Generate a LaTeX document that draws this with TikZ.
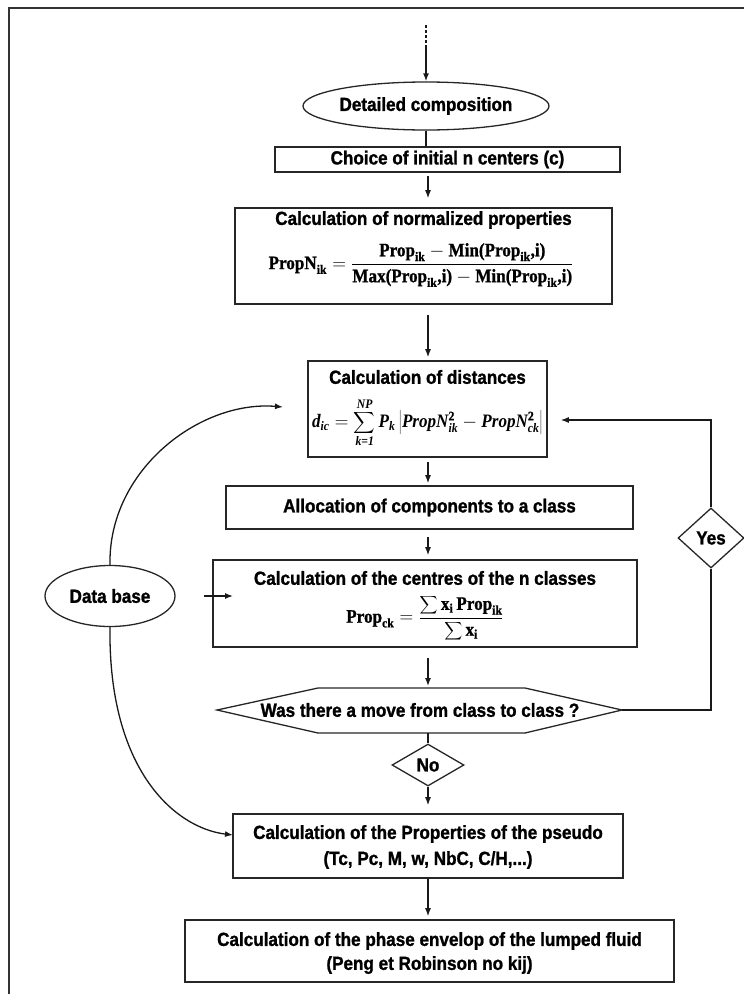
\RequirePackage{fix-cm}
\documentclass[tikz,border=0pt]{standalone}
\usepackage{graphicx}
\usepackage{fontspec}
\newfontfamily\lbl{Liberation Sans}[FakeStretch=0.9,BoldFeatures={FakeBold=1.2}]
\newfontfamily\tms{Liberation Serif}[FakeStretch=0.9,BoldFeatures={FakeBold=1.0}]
\usetikzlibrary{shapes.geometric,arrows.meta}
\newcommand\tr[1]{\mbox{\tms\bfseries #1}}
\newcommand\ti[1]{\mbox{\tms\bfseries\itshape #1}}
\newcommand\sbr[1]{\mbox{\fontsize{13}{13}\tms\bfseries #1}}
\newcommand\sbi[1]{\mbox{\fontsize{13}{13}\tms\bfseries\itshape #1}}
\newcommand\pik{\tr{Prop}_{\sbr{ik}}}
\newcommand\bsum[1]{\mathop{\vcenter{\hbox{\scalebox{#1}{$\displaystyle\sum$}}}}}
\begin{document}
\begin{tikzpicture}[x=1pt,y=-1pt,
  font={\fontsize{19}{22}\lbl\bfseries},
  box/.style={draw=black!85, line width=1.6pt, rectangle, inner sep=0pt},
  oval/.style={draw=black!85, ellipse, line width=1.3pt, inner sep=0pt},
  dia/.style={draw=black!85, diamond, line width=1.3pt, inner sep=0pt},
  lab/.style={inner sep=0pt, align=center},
  arr/.style={-{Latex[length=8pt,width=6pt]}, line width=1.3pt, black!90},
  wire/.style={line width=1.3pt, black!90}]
\useasboundingbox (0,0) rectangle (744,994);
% frame
\draw[line width=2.5pt, black!80] (9,994) -- (9,8) -- (744,8);
\coordinate (ax) at (428,0);
% boxes
\node[oval, minimum width=246pt, minimum height=48pt] (comp) at (426,106) {Detailed composition};
\node[box, minimum width=345pt, minimum height=25pt] (choice) at (447.5,159.5) {Choice of initial n centers (c)};
\node[box, minimum width=377pt, minimum height=96pt] (norm) at (423.5,256) {};
\node[lab] (normt) at (423.5,220) {Calculation of normalized properties};
\node[lab] (normf) at (421,265)
  {$\tr{PropN}_{\sbr{ik}} = {\displaystyle\frac{\pik - \tr{Min(}\pik\tr{,i)}}{\tr{Max(}\pik\tr{,i)} - \tr{Min(}\pik\tr{,i)}}}$};
\node[box, minimum width=239pt, minimum height=96pt] (dist) at (427.5,409) {};
\node[lab] (distt) at (427.5,377) {Calculation of distances};
\node[lab] (distf) at (427.5,423)
  {$\ti{d}_{\sbi{ic}} = \bsum{1.5}\limits_{\sbi{k=1}}^{\sbi{NP}} \ti{P}_{\sbi{k}} \left| \ti{PropN}^{\sbr{2}}_{\sbi{ik}} - \ti{PropN}^{\sbr{2}}_{\sbi{ck}} \right|$};
\node[box, minimum width=407pt, minimum height=43pt] (alloc) at (429.5,507.5) {Allocation of components to a class};
\node[box, minimum width=424pt, minimum height=87pt] (centres) at (425,603.5) {};
\node[lab] (centt) at (425,578) {Calculation of the centres of the n classes};
\node[lab] (centf) at (425,618)
  {$\tr{Prop}_{\sbr{ck}} = {\displaystyle\frac{\bsum{1.25}\tr{x}_{\sbr{i}}\,\tr{Prop}_{\sbr{ik}}}{\bsum{1.25}\tr{x}_{\sbr{i}}}}$};
% hexagon
\coordinate (hW) at (217,710);
\coordinate (hNW) at (318,688);
\coordinate (hNE) at (525,688);
\coordinate (hE) at (622,710);
\coordinate (hSE) at (525,733);
\coordinate (hSW) at (318,733);
\draw[line width=1.3pt, black!85] (hW) -- (hNW) -- (hNE) -- (hE) -- (hSE) -- (hSW) -- cycle;
\node[lab] (move) at (420,710) {Was there a move from class to class ?};
\coordinate (hN) at (428,688);
\coordinate (hS) at (428,733);
\node[dia, minimum width=72pt, minimum height=42pt] (no) at (428,765) {No};
\node[dia, minimum width=66pt, minimum height=60pt] (yes) at (711,538) {Yes};
\node[box, minimum width=390pt, minimum height=64pt] (props) at (428,846) {};
\node[lab] (propst) at (428,834) {Calculation of the Properties of the pseudo};
\node[lab] (propsl) at (428,860) {(Tc, Pc, M, w, NbC, C/H,...)};
\node[box, minimum width=489pt, minimum height=62pt] (phase) at (429.5,951) {};
\node[lab] (phaset) at (429.5,941) {Calculation of the phase envelop of the lumped fluid};
\node[lab] (phasel) at (429.5,965) {(Peng et Robinson no kij)};
\node[oval, minimum width=130pt, minimum height=61pt] (db) at (110,596) {Data base};
% connectors
\coordinate (start) at (426,25);
\coordinate (dmid) at (426,47);
\draw[wire, dash pattern=on 3pt off 2pt] (start) -- (dmid);
\draw[arr] (dmid) -- (comp.north -| dmid);
\draw[wire] (comp.south) -- (choice.north -| comp.south);
\draw[arr, shorten <=3pt, shorten >=9pt] (choice.south -| ax) -- (norm.north -| ax);
\draw[arr, shorten <=10pt, shorten >=3pt] (norm.south -| ax) -- (dist.north -| ax);
\draw[arr, shorten <=4pt, shorten >=2pt] (dist.south -| ax) -- (alloc.north -| ax);
\draw[arr, shorten <=7pt, shorten >=4pt] (alloc.south -| ax) -- (centres.north -| ax);
\draw[arr, shorten <=10pt, shorten >=2pt] (centres.south -| ax) -- (hN);
\draw[wire] (hS) -- (no.north);
\draw[arr, shorten >=8pt] (no.south) -- (props.north -| no.south);
\draw[arr, shorten >=3pt] (props.south -| ax) -- (phase.north -| ax);
% yes loop
\coordinate (loop) at (711,420);
\draw[wire] (hE) -- (yes.south |- hE) -- (yes.south);
\draw[arr, shorten >=13pt] (yes.north) -- (loop) -- (dist.east |- loop);
% data base
\coordinate (dbin) at (233,597);
\draw[arr, shorten <=28pt] (db.east) -- (dbin |- db.east);
\coordinate (up) at (283,407);
\draw[arr] (db.north) .. controls (108,470) and (200,400) .. (up);
\coordinate (down) at (233,835);
\draw[arr] (db.south) .. controls (108,770) and (175,828) .. (down);
\end{tikzpicture}
\end{document}
